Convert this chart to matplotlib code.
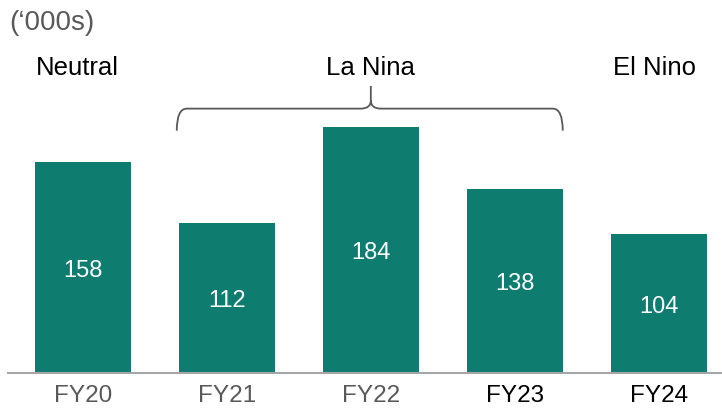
import matplotlib
matplotlib.use("Agg")
import matplotlib.pyplot as plt
from matplotlib.path import Path
from matplotlib.patches import PathPatch

categories = ["FY20", "FY21", "FY22", "FY23", "FY24"]
values = [158, 112, 184, 138, 104]
phases = ["Neutral", "La Nina", "El Nino"]
tick_colors = ["#595959", "#595959", "#595959", "#000000", "#000000"]

plt.rcParams['font.family'] = ['Liberation Sans', 'DejaVu Sans']

W, H = 722, 410
fig = plt.figure(figsize=(W / 100, H / 100), dpi=100)
ax = fig.add_axes([8 / W, 36 / H, 714 / W, 374 / H])

bar_color = "#0F7C70"
bw = 0.667
x = list(range(len(categories)))
bars = ax.bar(x, values, width=bw, color=bar_color, zorder=2)
for xi, v in zip(x, values):
    ax.text(xi, v / 2 - 1.5, str(v), ha="center", va="center", color="white", fontsize=17)

ax.set_xlim(-0.521, 4.44)
ax.set_ylim(0, 280.1)
for s in ["top", "right", "left"]:
    ax.spines[s].set_visible(False)
ax.spines["bottom"].set_color("#A6A6A6")
ax.spines["bottom"].set_linewidth(1.5)
ax.set_yticks([])
ax.set_xticks(x)
ax.set_xticklabels(categories, fontsize=17.5)
for lbl, c in zip(ax.get_xticklabels(), tick_colors):
    lbl.set_color(c)
ax.tick_params(axis="x", length=0, pad=8)

# phase labels
ax.text(0 - 0.04, 229, phases[0], ha="center", va="center", fontsize=18.5, color="black")
ax.text(2, 229, phases[1], ha="center", va="center", fontsize=18.5, color="black")
ax.text(4 - 0.03, 229, phases[2], ha="center", va="center", fontsize=18.5, color="black")

# bracket over La Nina years
x0 = 1 - bw / 2 - 0.015
x1 = 3 + bw / 2
xc = 2
yb, ym, yt = 181.5, 198, 215
rx, ry = 0.07, 6
verts = [
    (x0, yb), (x0, ym), (x0 + rx, ym),
    (xc - rx, ym), (xc, ym), (xc, ym + ry),
    (xc, yt),
    (xc, ym + ry), (xc, ym), (xc + rx, ym),
    (x1 - rx, ym), (x1, ym), (x1, yb),
]
codes = [Path.MOVETO, Path.CURVE3, Path.CURVE3,
         Path.LINETO, Path.CURVE3, Path.CURVE3,
         Path.LINETO,
         Path.MOVETO, Path.CURVE3, Path.CURVE3,
         Path.LINETO, Path.CURVE3, Path.CURVE3]
ax.add_patch(PathPatch(Path(verts, codes), facecolor="none", edgecolor="#595959",
                       linewidth=1.3, clip_on=False))

fig.text(9 / W, 1 - 23 / H, "(\u2018000s)", ha="left", va="center", fontsize=20, color="#595959")

fig.savefig("out.png", dpi=100)
